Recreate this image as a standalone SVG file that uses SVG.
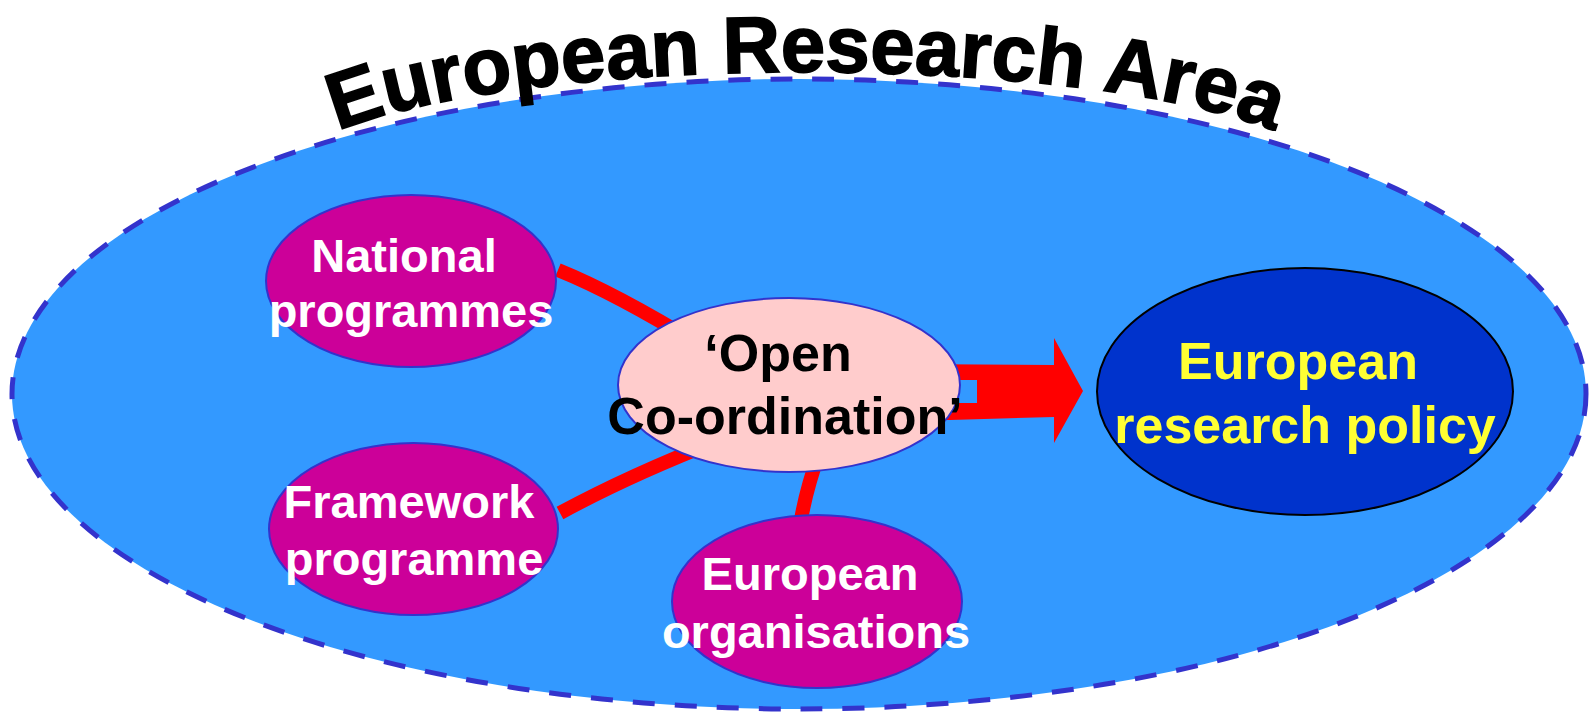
<svg xmlns="http://www.w3.org/2000/svg" width="1589" height="712" viewBox="0 0 1589 712">
<style>
.t{font-family:"Liberation Sans",Arial,sans-serif;font-weight:bold;text-anchor:middle}
.w{fill:#FFFFFF;font-size:47px}
.k{fill:#000000;font-size:52px}
.y{fill:#FFFF33;font-size:52px}
.node{fill:#CC0099;stroke:#3333CC;stroke-width:2}
.conn{fill:none;stroke:#FF0000;stroke-width:14;stroke-linecap:butt}
</style>
<defs>
<path id="arc" d="M 286 177 A 520 105 0 0 1 1326 177"/>
</defs>
<g id="era">
<ellipse cx="799" cy="394" rx="787" ry="315" fill="#3399FF" stroke="#3333CC" stroke-width="5" stroke-dasharray="22 20"/>
<text class="t" font-size="80" fill="#000000" stroke="#000000" stroke-width="1.6"><textPath href="#arc" startOffset="50%">European Research Area</textPath></text>
</g>
<g id="connectors">
<path class="conn" d="M 558 270 Q 615 293 700 345"/>
<path class="conn" d="M 560 513 Q 630 475 720 440"/>
<path class="conn" d="M 801 520 Q 806 490 820 450"/>
<polygon points="900,364 1054,365 1054,338 1083,391 1054,443 1054,417 950,420 900,420" fill="#FF0000"/>
<rect x="950" y="380" width="27" height="23" fill="#3399FF"/>
</g>
<g id="national">
<ellipse class="node" cx="411" cy="281" rx="145" ry="86"/>
<text class="t w" x="404" y="272">National</text>
<text class="t w" x="411" y="327">programmes</text>
</g>
<g id="framework">
<ellipse class="node" cx="413.5" cy="529" rx="144.5" ry="86"/>
<text class="t w" x="409" y="518">Framework</text>
<text class="t w" x="414" y="575">programme</text>
</g>
<g id="organisations">
<ellipse class="node" cx="817" cy="601.5" rx="145" ry="86.5"/>
<text class="t w" x="810" y="590">European</text>
<text class="t w" x="816" y="648">organisations</text>
</g>
<g id="open">
<ellipse cx="789" cy="385" rx="171" ry="87" fill="#FFCCCC" stroke="#3333CC" stroke-width="2"/>
<text class="t k" x="778" y="371">‘Open</text>
<text class="t k" x="785" y="434">Co-ordination’</text>
</g>
<g id="policy">
<ellipse cx="1305" cy="391.5" rx="208" ry="123.5" fill="#0033CC" stroke="#000000" stroke-width="2"/>
<text class="t y" x="1298" y="379">European</text>
<text class="t y" x="1305" y="443">research policy</text>
</g>
</svg>
